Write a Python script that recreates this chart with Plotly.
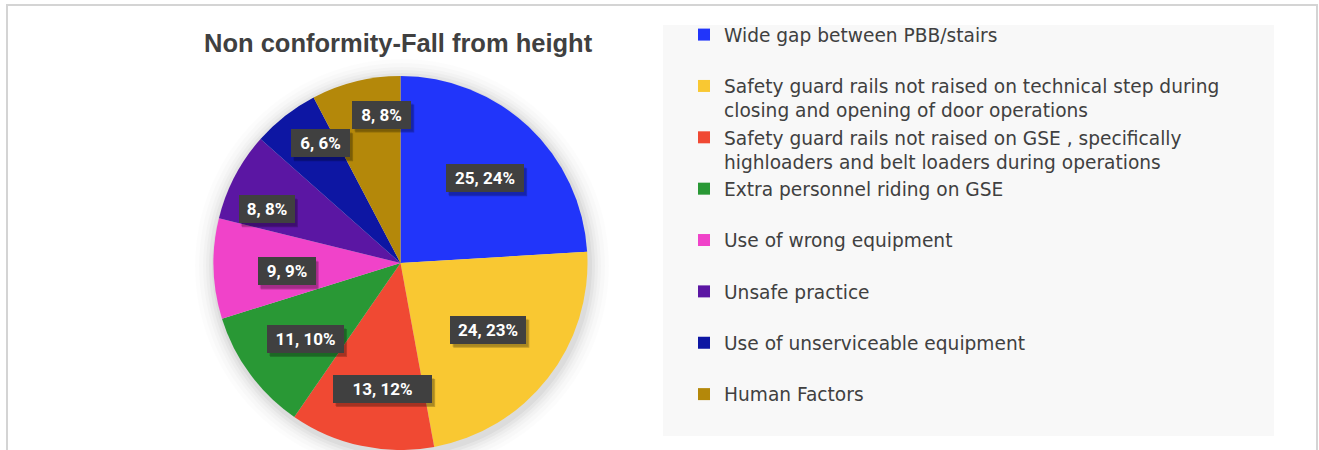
import math
import plotly.graph_objects as go

# ---------------- data ----------------
categories = [
    "Wide gap between PBB/stairs",
    "Safety guard rails not raised on technical step during<br>closing and opening of door operations",
    "Safety guard rails not raised on GSE , specifically<br>highloaders and belt loaders during operations",
    "Extra personnel riding on GSE",
    "Use of wrong equipment",
    "Unsafe practice",
    "Use of unserviceable equipment",
    "Human Factors",
]
values = [25, 24, 13, 11, 9, 8, 6, 8]
percent_labels = [24, 23, 12, 10, 9, 8, 6, 8]
title_text = "Non conformity-Fall from height"

# ---------------- style ----------------
colors = ["#2135FA", "#F9C832", "#F04933", "#299835",
          "#F043C9", "#5B16A3", "#0D16A3", "#B4880A"]
# data-label placement: radial fraction of pie radius, angular fraction inside slice
label_radius = [0.64, 0.59, 0.68, 0.65, 0.61, 0.77, 0.77, 0.80]
label_angle_frac = [0.52, 0.49, 0.41, 0.44, 0.42, 0.29, 0.71, 0.74]
label_box_w = [78, 76, 99, 77, 58, 56, 59, 59]   # px, full box width
label_box_h = 28                                  # px, full box height
pad = 3

W, H = 1319, 450
cx, cy, R = 400.5, 263.0, 187.0   # pie centre / radius in pixels (from top-left)

def px(x):
    return x / W

def py(y):
    return 1 - y / H

legend_names = [c if "<br>" in c else c + "<br>\u00a0" for c in categories]

fig = go.Figure()
fig.add_trace(go.Pie(
    labels=legend_names,
    values=values,
    sort=False,
    direction="clockwise",
    rotation=0,
    marker=dict(colors=colors, line=dict(width=0)),
    textinfo="none",
    hoverinfo="label+value+percent",
    domain=dict(x=[px(cx - R), px(cx + R)], y=[py(cy + R), py(cy - R)]),
))

shapes = []
# soft shadow around the pie
for extra, op in [(20, 0.012), (16, 0.015), (12, 0.02), (9, 0.025), (6, 0.03), (3, 0.04)]:
    r = R + extra
    ox, oy = 1.5, 3
    shapes.append(dict(type="circle", xref="paper", yref="paper", layer="below",
                       x0=px(cx + ox - r), x1=px(cx + ox + r),
                       y0=py(cy + oy + r), y1=py(cy + oy - r),
                       fillcolor=f"rgba(0,0,0,{op})", line=dict(width=0)))
# legend background
shapes.append(dict(type="rect", xref="paper", yref="paper", layer="below",
                   x0=px(663), x1=px(1274), y0=py(436), y1=py(25),
                   fillcolor="#F8F8F8", line=dict(width=0)))
# chart border
shapes.append(dict(type="rect", xref="paper", yref="paper", layer="above",
                   x0=px(7), x1=px(1317), y0=py(470), y1=py(5),
                   fillcolor="rgba(0,0,0,0)", line=dict(color="#D4D4D4", width=2)))

annotations = [dict(text=f"<b>{title_text}</b>", x=px(398), y=py(43),
                    xref="paper", yref="paper", xanchor="center", yanchor="middle",
                    showarrow=False,
                    font=dict(family="Liberation Sans, Arial, sans-serif", size=25.5, color="#404040"))]

total = sum(values)
cum = 0
for v, p, rf, af, bw in zip(values, percent_labels, label_radius, label_angle_frac, label_box_w):
    theta = 2 * math.pi * (cum + v * af) / total
    cum += v
    lx = cx + rf * R * math.sin(theta)
    ly = cy - rf * R * math.cos(theta)
    # soft drop shadow of the label box
    for (sx, sy, op) in [(3, 4, 0.22), (2, 3, 0.12)]:
        shapes.append(dict(type="rect", xref="paper", yref="paper", layer="above",
                           x0=px(lx - bw / 2 + sx), x1=px(lx + bw / 2 + sx),
                           y0=py(ly + label_box_h / 2 + sy), y1=py(ly - label_box_h / 2 + sy),
                           fillcolor=f"rgba(0,0,0,{op})", line=dict(width=0)))
    annotations.append(dict(
        text=f"<b>{v}, {p}%</b>", x=px(lx), y=py(ly), xref="paper", yref="paper",
        xanchor="center", yanchor="middle", showarrow=False,
        width=bw - 2 * pad, height=label_box_h - 2 * pad, borderpad=pad, borderwidth=0,
        bgcolor="#404040",
        font=dict(family="Roboto, Liberation Sans, sans-serif", size=17, color="#FFFFFF")))

fig.update_layout(
    width=W, height=H,
    margin=dict(l=0, r=0, t=0, b=0),
    paper_bgcolor="#FFFFFF",
    plot_bgcolor="#FFFFFF",
    showlegend=True,
    legend=dict(
        x=px(684), xanchor="left",
        y=py(16), yanchor="top",
        bgcolor="rgba(0,0,0,0)",
        font=dict(family="DejaVu Sans, Verdana, sans-serif", size=18.6, color="#404040"),
        valign="top",
        traceorder="normal",
    ),
    shapes=shapes,
    annotations=annotations,
)

fig.write_html("out.html",
               config={"displayModeBar": False},
               post_script="document.body.style.margin='0px';document.body.style.overflow='hidden';")
